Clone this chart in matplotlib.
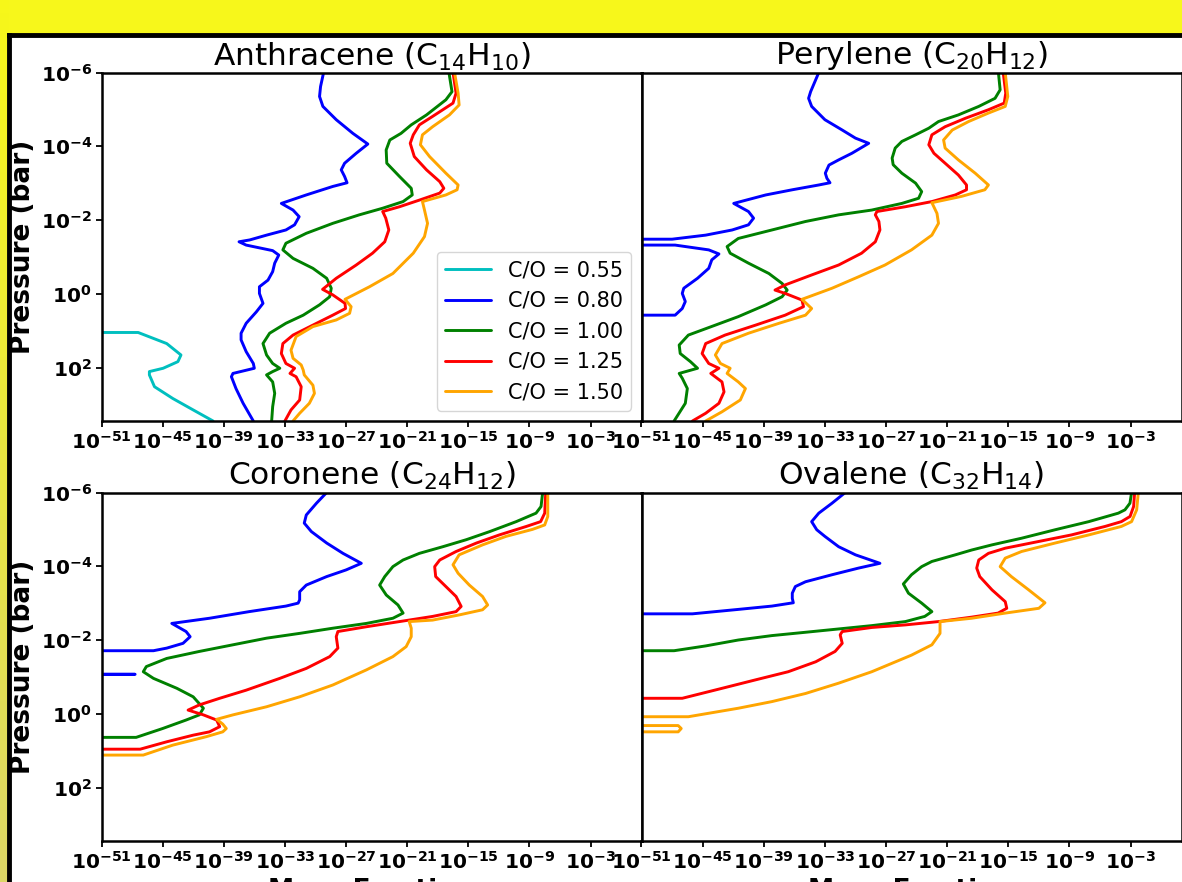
import matplotlib.pyplot as plt
import numpy as np
from matplotlib.ticker import FixedLocator, NullLocator

plt.rcParams['font.family'] = ['DejaVu Sans']

# profiles as (log10 mass fraction, log10 pressure [bar]) pairs
# -300 stands for "effectively zero" (runs off the left edge)
co_ratios = ['0.55', '0.80', '1.00', '1.25', '1.50']
co_colors = ['c', 'b', 'g', 'r', 'orange']

anth_055 = [(-300, 1.04), (-47.4, 1.05), (-44.6, 1.35), (-43.2, 1.66), (-43.5, 1.84), (-44.95, 2.02),
            (-46.3, 2.11), (-46.3, 2.20), (-45.8, 2.52), (-44.0, 2.84), (-42.0, 3.15), (-40.05, 3.45)]
anth_080 = [(-29.2, -6), (-29.5, -5.62), (-29.6, -5.35), (-29.27, -5.08), (-27.96, -4.72), (-26.33, -4.35),
            (-24.86, -4.06), (-26.0, -3.81), (-27.14, -3.54), (-27.47, -3.36), (-27.14, -3.18), (-26.9, -3.01),
            (-28.3, -2.91), (-30.9, -2.68), (-33.35, -2.45), (-32.2, -2.27), (-31.6, -2.09), (-32.05, -1.87),
            (-32.9, -1.73), (-34.8, -1.59), (-36.45, -1.46), (-37.5, -1.41), (-36.8, -1.32), (-34.2, -1.17),
            (-33.6, -1.05), (-34.0, -0.83), (-34.2, -0.60), (-34.66, -0.37), (-35.5, -0.19), (-35.5, -0.01),
            (-35.15, 0.26), (-35.8, 0.49), (-36.8, 0.80), (-37.3, 1.07), (-37.3, 1.25), (-36.8, 1.57),
            (-36.1, 1.89), (-36.0, 2.02), (-38.1, 2.16), (-38.25, 2.25), (-37.8, 2.57), (-37.1, 2.97),
            (-36.1, 3.45)]
anth_100 = [(-16.9, -6), (-16.6, -5.48), (-17.2, -5.26), (-19.1, -4.85), (-20.6, -4.58), (-21.6, -4.35),
            (-22.7, -4.17), (-23.06, -3.90), (-23.0, -3.54), (-21.75, -3.18), (-20.6, -2.86), (-20.5, -2.68),
            (-21.4, -2.50), (-23.4, -2.32), (-25.7, -2.14), (-28.3, -1.91), (-30.9, -1.64), (-32.9, -1.37),
            (-33.2, -1.19), (-32.2, -0.96), (-30.25, -0.69), (-28.9, -0.42), (-28.45, -0.15), (-28.6, 0.08),
            (-29.6, 0.30), (-31.2, 0.58), (-32.9, 0.80), (-34.5, 1.07), (-35.15, 1.35), (-34.8, 1.66),
            (-34.2, 1.89), (-33.5, 2.02), (-34.2, 2.11), (-34.8, 2.20), (-34.2, 2.39), (-34.0, 2.70),
            (-34.2, 3.06), (-34.3, 3.45)]
anth_125 = [(-16.5, -6), (-16.2, -5.44), (-16.5, -5.17), (-18.5, -4.81), (-19.8, -4.58), (-20.4, -4.31),
            (-20.7, -4.08), (-20.3, -3.72), (-19.1, -3.36), (-17.8, -3.04), (-17.4, -2.86), (-17.8, -2.73),
            (-19.8, -2.54), (-21.75, -2.36), (-23.4, -2.23), (-23.1, -2.05), (-22.8, -1.73), (-23.2, -1.41),
            (-24.4, -1.10), (-26.0, -0.78), (-27.96, -0.42), (-29.3, -0.12), (-28.3, 0.03), (-27.1, 0.26),
            (-27.05, 0.40), (-28.3, 0.58), (-30.25, 0.85), (-32.2, 1.12), (-33.2, 1.35), (-33.35, 1.62),
            (-32.9, 1.89), (-32.05, 2.02), (-32.5, 2.16), (-31.9, 2.25), (-31.4, 2.52), (-31.55, 2.88),
            (-32.4, 3.15), (-33.0, 3.45)]
anth_150 = [(-16.35, -6), (-16.0, -5.44), (-15.9, -5.12), (-16.85, -4.85), (-18.5, -4.53), (-19.5, -4.31),
            (-19.7, -4.04), (-18.8, -3.72), (-17.2, -3.27), (-16.0, -2.95), (-16.1, -2.82), (-17.2, -2.68),
            (-19.5, -2.50), (-19.3, -2.27), (-19.0, -1.91), (-19.3, -1.55), (-20.4, -1.10), (-22.4, -0.55),
            (-24.7, -0.19), (-27.1, 0.15), (-26.5, 0.35), (-26.65, 0.53), (-27.96, 0.71), (-30.25, 0.89),
            (-31.9, 1.16), (-32.4, 1.53), (-32.2, 1.75), (-31.4, 1.93), (-31.2, 2.07), (-31.1, 2.20),
            (-30.25, 2.48), (-30.1, 2.70), (-30.6, 2.97), (-31.55, 3.24), (-32.2, 3.45)]

pery_080 = [(-33.6, -6), (-34.4, -5.48), (-34.6, -5.30), (-34.3, -5.08), (-33.0, -4.72), (-31.3, -4.44),
            (-30.0, -4.22), (-28.7, -4.08), (-30.35, -3.81), (-31.65, -3.63), (-32.6, -3.49), (-32.96, -3.27),
            (-32.8, -3.13), (-32.5, -3.01), (-33.6, -2.95), (-36.2, -2.82), (-38.8, -2.68), (-41.95, -2.45),
            (-40.5, -2.23), (-40.0, -2.05), (-40.5, -1.87), (-42.1, -1.73), (-44.7, -1.59), (-48.0, -1.48),
            (-300, -1.46), (-300, -1.34), (-47.7, -1.32), (-44.4, -1.19), (-43.4, -1.08), (-44.1, -0.92),
            (-44.4, -0.69), (-45.5, -0.42), (-46.85, -0.15), (-47.0, -0.01), (-46.7, 0.21), (-47.0, 0.40),
            (-47.7, 0.58), (-300, 0.60)]
pery_100 = [(-15.97, -6), (-15.8, -5.53), (-16.3, -5.30), (-17.9, -5.08), (-19.9, -4.85), (-21.85, -4.67),
            (-22.8, -4.49), (-24.1, -4.31), (-25.45, -4.13), (-26.1, -3.95), (-26.4, -3.68), (-26.3, -3.50),
            (-25.45, -3.27), (-24.1, -3.00), (-23.5, -2.77), (-23.8, -2.59), (-25.45, -2.45), (-28.4, -2.27),
            (-31.65, -2.14), (-34.9, -1.96), (-38.2, -1.73), (-41.5, -1.50), (-42.6, -1.28), (-42.3, -1.10),
            (-40.5, -0.83), (-38.5, -0.55), (-37.2, -0.28), (-36.7, -0.10), (-37.2, 0.08), (-38.8, 0.30),
            (-41.5, 0.62), (-43.75, 0.85), (-46.4, 1.12), (-47.3, 1.39), (-47.2, 1.62), (-46.2, 1.84),
            (-45.5, 2.02), (-47.3, 2.16), (-47.0, 2.29), (-46.5, 2.57), (-46.7, 2.97), (-47.8, 3.45)]
pery_125 = [(-15.5, -6), (-15.25, -5.44), (-15.4, -5.17), (-16.95, -4.99), (-19.2, -4.76), (-21.2, -4.53),
            (-22.5, -4.31), (-22.8, -4.04), (-22.3, -3.81), (-21.2, -3.54), (-19.9, -3.22), (-19.1, -2.95),
            (-19.1, -2.82), (-20.2, -2.68), (-22.5, -2.50), (-25.1, -2.36), (-27.9, -2.23), (-28.05, -2.14),
            (-27.7, -1.96), (-27.6, -1.73), (-28.05, -1.41), (-29.4, -1.10), (-31.65, -0.78), (-34.3, -0.51),
            (-36.9, -0.24), (-37.9, -0.10), (-36.9, -0.01), (-35.25, 0.17), (-35.1, 0.35), (-36.9, 0.58),
            (-39.8, 0.85), (-42.8, 1.12), (-44.7, 1.35), (-45.05, 1.62), (-44.4, 1.89), (-43.4, 2.02),
            (-44.2, 2.16), (-43.1, 2.39), (-42.9, 2.66), (-43.4, 2.97), (-44.7, 3.24), (-46.0, 3.45)]
pery_150 = [(-15.3, -6), (-15.05, -5.35), (-15.3, -5.08), (-16.95, -4.90), (-18.9, -4.67), (-20.5, -4.44),
            (-21.35, -4.17), (-21.2, -3.95), (-19.9, -3.63), (-18.25, -3.27), (-16.95, -2.95), (-17.3, -2.82),
            (-19.6, -2.64), (-22.5, -2.47), (-22.0, -2.18), (-21.85, -1.91), (-22.5, -1.59), (-24.5, -1.19),
            (-27.1, -0.78), (-29.7, -0.46), (-32.3, -0.15), (-35.25, 0.15), (-34.3, 0.40), (-34.9, 0.58),
            (-37.5, 0.80), (-40.5, 1.07), (-43.1, 1.35), (-43.75, 1.66), (-43.25, 1.89), (-42.3, 2.02),
            (-42.6, 2.16), (-41.5, 2.39), (-40.8, 2.57), (-41.3, 2.88), (-43.1, 3.20), (-44.7, 3.45)]

coro_080 = [(-28.9, -6), (-29.9, -5.71), (-30.9, -5.39), (-31.1, -5.17), (-30.4, -4.94), (-28.9, -4.63),
            (-27.3, -4.35), (-25.5, -4.08), (-27.0, -3.90), (-28.9, -3.72), (-30.9, -3.49), (-31.55, -3.31),
            (-31.55, -3.09), (-31.7, -3.00), (-32.9, -2.92), (-36.5, -2.77), (-40.4, -2.59), (-44.1, -2.45),
            (-42.7, -2.23), (-42.3, -2.09), (-43.0, -1.91), (-44.6, -1.78), (-45.9, -1.71), (-300, -1.69),
            (-300, -1.08), (-47.7, -1.07), (-300, -1.06)]
coro_100 = [(-7.7, -6), (-7.86, -5.62), (-8.35, -5.44), (-10.3, -5.21), (-12.9, -4.94), (-15.2, -4.72),
            (-17.5, -4.53), (-19.8, -4.35), (-21.4, -4.17), (-22.4, -3.99), (-23.2, -3.72), (-23.7, -3.49),
            (-23.05, -3.22), (-21.9, -2.95), (-21.4, -2.73), (-22.4, -2.59), (-25.0, -2.45), (-28.3, -2.32),
            (-31.55, -2.18), (-34.8, -2.05), (-38.1, -1.87), (-41.4, -1.69), (-44.6, -1.50), (-46.6, -1.28),
            (-46.9, -1.14), (-45.9, -0.96), (-43.6, -0.69), (-42.0, -0.46), (-41.0, -0.15), (-41.4, 0.03),
            (-42.7, 0.17), (-45.0, 0.40), (-47.6, 0.64), (-300, 0.66)]
coro_125 = [(-7.4, -6), (-7.5, -5.44), (-7.9, -5.21), (-9.3, -5.08), (-11.95, -4.85), (-14.2, -4.63),
            (-16.2, -4.40), (-17.8, -4.17), (-18.3, -3.99), (-18.2, -3.72), (-17.2, -3.45), (-16.2, -3.18),
            (-15.7, -2.91), (-16.2, -2.77), (-18.5, -2.64), (-21.75, -2.50), (-25.0, -2.36), (-27.8, -2.23),
            (-27.96, -2.09), (-27.8, -1.78), (-28.6, -1.55), (-30.9, -1.23), (-33.5, -0.96), (-36.8, -0.64),
            (-39.4, -0.42), (-41.4, -0.24), (-42.5, -0.10), (-41.0, 0.03), (-39.7, 0.17), (-39.4, 0.35),
            (-40.4, 0.49), (-42.0, 0.58), (-44.6, 0.76), (-47.2, 0.96), (-300, 0.98)]
coro_150 = [(-7.2, -6), (-7.2, -5.35), (-7.5, -5.12), (-8.7, -5.00), (-11.3, -4.81), (-13.6, -4.58),
            (-15.9, -4.31), (-16.5, -4.04), (-16.0, -3.81), (-14.9, -3.49), (-13.6, -3.18), (-13.1, -2.95),
            (-13.6, -2.82), (-15.9, -2.68), (-18.5, -2.54), (-20.8, -2.50), (-20.6, -2.32), (-20.6, -2.09),
            (-21.1, -1.82), (-22.4, -1.55), (-25.0, -1.19), (-28.3, -0.78), (-31.55, -0.46), (-34.8, -0.19),
            (-38.1, 0.03), (-39.7, 0.15), (-39.1, 0.28), (-38.75, 0.40), (-39.1, 0.49), (-40.7, 0.62),
            (-44.0, 0.85), (-46.9, 1.12), (-300, 1.14)]

oval_080 = [(-31.0, -6), (-32.3, -5.71), (-33.6, -5.44), (-34.3, -5.21), (-33.8, -4.99), (-33.0, -4.81),
            (-31.65, -4.53), (-30.0, -4.31), (-27.6, -4.08), (-29.7, -3.95), (-32.3, -3.77), (-34.9, -3.58),
            (-35.9, -3.45), (-36.2, -3.27), (-36.2, -3.13), (-36.1, -3.01), (-38.2, -2.92), (-41.5, -2.83),
            (-46.0, -2.71), (-300, -2.69)]
oval_100 = [(-2.9, -6), (-3.06, -5.71), (-3.55, -5.53), (-4.2, -5.44), (-7.1, -5.21), (-10.4, -4.99),
            (-13.7, -4.76), (-16.6, -4.58), (-18.6, -4.44), (-20.2, -4.31), (-22.5, -4.13), (-23.5, -3.99),
            (-24.5, -3.77), (-25.3, -3.52), (-24.8, -3.27), (-23.5, -3.00), (-22.5, -2.77), (-23.2, -2.64),
            (-25.1, -2.50), (-28.4, -2.39), (-31.65, -2.30), (-34.9, -2.21), (-38.2, -2.12), (-41.5, -2.00),
            (-44.7, -1.84), (-47.8, -1.71), (-300, -1.69)]
oval_125 = [(-2.6, -6), (-2.7, -5.62), (-3.05, -5.35), (-3.9, -5.21), (-5.5, -5.08), (-8.8, -4.85),
            (-12.05, -4.67), (-15.3, -4.49), (-16.95, -4.35), (-17.9, -4.17), (-18.1, -3.95), (-17.8, -3.72),
            (-16.6, -3.36), (-15.3, -3.04), (-15.15, -2.86), (-16.0, -2.73), (-18.6, -2.62), (-21.85, -2.50),
            (-25.1, -2.41), (-28.4, -2.34), (-31.3, -2.23), (-31.5, -2.14), (-31.3, -1.91), (-32.0, -1.69),
            (-33.9, -1.41), (-36.6, -1.14), (-39.8, -0.92), (-43.1, -0.69), (-47.0, -0.42), (-300, -0.40)]
oval_150 = [(-2.24, -6), (-2.4, -5.53), (-2.9, -5.21), (-3.9, -5.08), (-7.1, -4.85), (-10.4, -4.63),
            (-13.7, -4.40), (-15.3, -4.22), (-15.8, -3.99), (-14.7, -3.72), (-13.0, -3.36), (-11.4, -3.01),
            (-12.0, -2.86), (-15.3, -2.73), (-18.6, -2.59), (-21.7, -2.50), (-21.7, -2.18), (-22.5, -1.87),
            (-24.5, -1.59), (-28.4, -1.14), (-31.65, -0.83), (-34.9, -0.55), (-38.2, -0.33), (-41.5, -0.15),
            (-46.4, 0.08), (-300, 0.10), (-300, 0.31), (-47.4, 0.32), (-47.1, 0.40), (-47.4, 0.49),
            (-300, 0.50)]

titles = ['Anthracene (C$_{14}$H$_{10}$)', 'Perylene (C$_{20}$H$_{12}$)',
          'Coronene (C$_{24}$H$_{12}$)', 'Ovalene (C$_{32}$H$_{14}$)']
profiles = [
    [anth_055, anth_080, anth_100, anth_125, anth_150],
    [None, pery_080, pery_100, pery_125, pery_150],
    [None, coro_080, coro_100, coro_125, coro_150],
    [None, oval_080, oval_100, oval_125, oval_150],
]

W, H = 1182, 882
fig = plt.figure(figsize=(W / 100, H / 100), dpi=100, facecolor='#f7f71b')

# faded strip down the left side
strip = fig.add_axes([0, 0, 9 / W, 1], zorder=0)
t = np.linspace(0, 1, 200)[:, None, None]
top_c = np.array([0.97, 0.97, 0.10])
bot_c = np.array([0.86, 0.84, 0.40])
strip.imshow((1 - t) * top_c + t * bot_c, aspect='auto', extent=[0, 1, 0, 1])
strip.axis('off')

# white sheet with a black frame
sheet = fig.add_axes([9 / W, -0.01, 1, 1 - 35 / H + 0.01], zorder=0.5)
sheet.set_facecolor('white')
sheet.set_xticks([])
sheet.set_yticks([])
for s in sheet.spines.values():
    s.set_linewidth(3.5)
    s.set_color('black')

lefts = [101.5 / W, 641.5 / W]
bottoms = [(H - 421) / H, (H - 841) / H]
pw, ph = 540 / W, 348.5 / H

axes = []
for k in range(4):
    r, c = divmod(k, 2)
    ax = fig.add_axes([lefts[c], bottoms[r], pw, ph], zorder=1)
    axes.append(ax)
    for prof, co, col in zip(profiles[k], co_ratios, co_colors):
        if prof is None:
            continue
        lx, lp = np.array(prof).T
        ax.plot(10.0 ** lx, 10.0 ** lp, color=col, lw=2.1, label='C/O = ' + co,
                solid_joinstyle='round', solid_capstyle='round')
    ax.set_xscale('log')
    ax.set_yscale('log')
    ax.set_xlim(1e-51, 1e2)
    ax.set_ylim(10 ** 3.45, 1e-6)
    ax.xaxis.set_major_locator(FixedLocator(10.0 ** np.arange(-51, 0, 6)))
    ax.xaxis.set_minor_locator(NullLocator())
    ax.yaxis.set_major_locator(FixedLocator(10.0 ** np.arange(-6, 3, 2)))
    ax.yaxis.set_minor_locator(NullLocator())
    ax.tick_params(labelsize=14.5, width=1.3, length=4, pad=3)
    for s in ax.spines.values():
        s.set_linewidth(1.8)
    for lab in ax.get_xticklabels() + ax.get_yticklabels():
        lab.set_fontweight('bold')
    ax.set_title(titles[k], fontsize=22.5, pad=1)
    if c == 0:
        ax.set_ylabel('Pressure (bar)', fontsize=19, fontweight='bold', labelpad=3)
    else:
        ax.tick_params(axis='y', labelleft=False, length=0)
    if r == 1:
        ax.set_xlabel('Mass Fraction', fontsize=19, fontweight='bold', labelpad=4)

axes[0].legend(loc='lower right', fontsize=15, handlelength=2.2)

fig.savefig('out.png', dpi=100, facecolor=fig.get_facecolor())
